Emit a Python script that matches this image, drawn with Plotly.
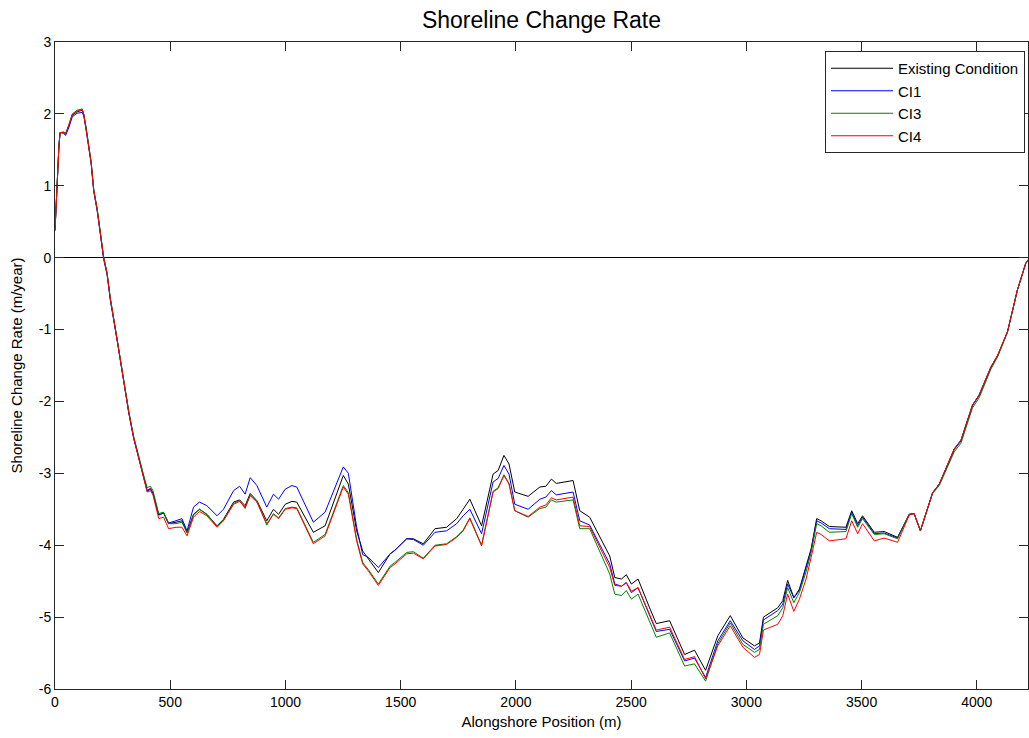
import plotly.graph_objects as go

# Alongshore position (m)
position = [0, 5, 12, 17, 22, 38, 46, 60, 75, 96, 118, 125, 136, 146, 157, 168, 183, 197, 211, 226,
            240, 270, 298, 320, 341, 370, 385, 400, 414, 425, 450, 471, 493, 525, 551, 573, 601, 627,
            659, 703, 731, 775, 801, 825, 847, 876, 919, 948, 970, 999, 1028, 1049, 1121, 1172, 1251,
            1273, 1309, 1335, 1360, 1403, 1454, 1475, 1526, 1555, 1598, 1649, 1699, 1743, 1771, 1800,
            1851, 1901, 1923, 1948, 1970, 1995, 2053, 2104, 2130, 2154, 2175, 2248, 2277, 2320, 2407,
            2429, 2458, 2479, 2501, 2530, 2580, 2609, 2667, 2732, 2775, 2823, 2876, 2930, 2985, 3035,
            3057, 3074, 3136, 3158, 3179, 3206, 3230, 3259, 3281, 3305, 3324, 3360, 3432, 3457, 3483,
            3504, 3555, 3598, 3656, 3707, 3728, 3755, 3808, 3837, 3902, 3931, 3981, 4010, 4061, 4090,
            4133, 4176, 4212, 4222]

existing = [0.38, 0.78, 1.15, 1.55, 1.74, 1.74, 1.72, 1.83, 1.98, 2.03, 2.05, 1.99, 1.78, 1.57, 1.32, 0.94,
            0.67, 0.34, 0.00, -0.22, -0.57, -1.15, -1.71, -2.15, -2.50, -2.89, -3.05, -3.24, -3.21, -3.27,
            -3.58, -3.55, -3.70, -3.68, -3.66, -3.82, -3.57, -3.50, -3.57, -3.73, -3.64, -3.40, -3.37, -3.45,
            -3.28, -3.38, -3.66, -3.50, -3.57, -3.43, -3.39, -3.40, -3.82, -3.73, -3.03, -3.15, -3.80, -4.08,
            -4.19, -4.38, -4.12, -4.07, -3.91, -3.91, -3.98, -3.77, -3.75, -3.63, -3.50, -3.36, -3.73, -3.01,
            -2.96, -2.75, -2.87, -3.26, -3.32, -3.19, -3.18, -3.08, -3.14, -3.10, -3.52, -3.61, -4.15, -4.45,
            -4.47, -4.41, -4.54, -4.47, -4.87, -5.09, -5.05, -5.52, -5.46, -5.74, -5.26, -4.98, -5.29, -5.40,
            -5.36, -5.00, -4.87, -4.77, -4.49, -4.73, -4.61, -4.31, -4.05, -3.63, -3.66, -3.74, -3.75, -3.52,
            -3.70, -3.59, -3.82, -3.81, -3.89, -3.57, -3.56, -3.80, -3.27, -3.15, -2.66, -2.54, -2.05, -1.91,
            -1.52, -1.36, -1.03, -0.45, -0.08, -0.03]

ci1 = [0.38, 0.78, 1.15, 1.55, 1.74, 1.73, 1.70, 1.81, 1.96, 2.01, 2.02, 1.97, 1.76, 1.55, 1.30, 0.92,
       0.65, 0.32, -0.02, -0.24, -0.59, -1.16, -1.72, -2.16, -2.51, -2.90, -3.06, -3.25, -3.22, -3.28,
       -3.58, -3.55, -3.69, -3.66, -3.63, -3.80, -3.47, -3.40, -3.45, -3.59, -3.50, -3.24, -3.18, -3.29,
       -3.06, -3.17, -3.47, -3.29, -3.36, -3.22, -3.17, -3.19, -3.68, -3.54, -2.91, -3.00, -3.75, -4.13,
       -4.17, -4.31, -4.12, -4.07, -3.91, -3.92, -4.00, -3.82, -3.80, -3.70, -3.59, -3.50, -3.84, -3.12,
       -3.07, -2.89, -3.01, -3.43, -3.50, -3.36, -3.33, -3.24, -3.30, -3.26, -3.66, -3.72, -4.26, -4.54,
       -4.57, -4.52, -4.66, -4.59, -4.98, -5.20, -5.17, -5.61, -5.57, -5.84, -5.33, -5.05, -5.33, -5.45,
       -5.40, -5.04, -4.91, -4.82, -4.54, -4.73, -4.63, -4.33, -4.07, -3.66, -3.69, -3.77, -3.78, -3.54,
       -3.73, -3.61, -3.84, -3.83, -3.90, -3.57, -3.56, -3.80, -3.27, -3.15, -2.67, -2.55, -2.06, -1.92,
       -1.53, -1.37, -1.03, -0.45, -0.08, -0.03]

ci3 = [0.38, 0.78, 1.15, 1.55, 1.74, 1.75, 1.73, 1.84, 2.00, 2.05, 2.07, 2.00, 1.79, 1.58, 1.33, 0.95,
       0.68, 0.35, 0.01, -0.21, -0.56, -1.14, -1.70, -2.13, -2.48, -2.87, -3.03, -3.20, -3.18, -3.24,
       -3.56, -3.54, -3.70, -3.70, -3.68, -3.83, -3.58, -3.50, -3.57, -3.74, -3.65, -3.42, -3.38, -3.49,
       -3.30, -3.39, -3.72, -3.56, -3.62, -3.49, -3.47, -3.48, -3.96, -3.85, -3.17, -3.27, -3.92, -4.24,
       -4.34, -4.54, -4.29, -4.24, -4.10, -4.09, -4.18, -4.00, -3.98, -3.88, -3.79, -3.62, -4.00, -3.25,
       -3.20, -3.02, -3.14, -3.52, -3.61, -3.49, -3.47, -3.37, -3.40, -3.37, -3.77, -3.77, -4.40, -4.68,
       -4.70, -4.63, -4.75, -4.68, -5.06, -5.28, -5.22, -5.68, -5.65, -5.89, -5.37, -5.08, -5.38, -5.49,
       -5.45, -5.10, -4.98, -4.87, -4.59, -4.80, -4.66, -4.37, -4.10, -3.70, -3.73, -3.82, -3.81, -3.56,
       -3.75, -3.63, -3.85, -3.84, -3.91, -3.57, -3.56, -3.80, -3.28, -3.17, -2.70, -2.58, -2.09, -1.95,
       -1.55, -1.38, -1.04, -0.45, -0.08, -0.03]

ci4 = [0.38, 0.78, 1.15, 1.55, 1.74, 1.74, 1.72, 1.84, 1.99, 2.04, 2.06, 1.99, 1.78, 1.57, 1.32, 0.94,
       0.67, 0.34, 0.00, -0.22, -0.57, -1.15, -1.71, -2.15, -2.50, -2.90, -3.07, -3.26, -3.24, -3.30,
       -3.63, -3.61, -3.77, -3.75, -3.75, -3.87, -3.61, -3.53, -3.59, -3.75, -3.66, -3.43, -3.39, -3.47,
       -3.31, -3.40, -3.70, -3.57, -3.63, -3.50, -3.48, -3.49, -3.98, -3.87, -3.19, -3.29, -3.94, -4.26,
       -4.36, -4.56, -4.31, -4.26, -4.12, -4.11, -4.19, -4.01, -3.99, -3.89, -3.80, -3.63, -4.01, -3.26,
       -3.21, -3.03, -3.15, -3.52, -3.60, -3.47, -3.44, -3.34, -3.37, -3.33, -3.73, -3.74, -4.31, -4.56,
       -4.57, -4.52, -4.64, -4.59, -4.96, -5.18, -5.14, -5.59, -5.55, -5.86, -5.40, -5.12, -5.42, -5.56,
       -5.52, -5.18, -5.10, -4.98, -4.68, -4.92, -4.75, -4.47, -4.17, -3.82, -3.85, -3.94, -3.91, -3.66,
       -3.84, -3.70, -3.94, -3.90, -3.96, -3.58, -3.56, -3.80, -3.27, -3.15, -2.66, -2.54, -2.05, -1.91,
       -1.52, -1.36, -1.03, -0.45, -0.08, -0.03]

series_names = ["Existing Condition", "CI1", "CI3", "CI4"]
series_colors = ["#000000", "#0000FF", "#008000", "#FF0000"]

x_ticks = [0, 500, 1000, 1500, 2000, 2500, 3000, 3500, 4000]
y_ticks = [-6, -5, -4, -3, -2, -1, 0, 1, 2, 3]
y_tick_text = ["-6", "-5", "-4", "-3", "-2", "-1", "0", "1", "2", "3"]

FONT = "Liberation Sans, Arial, Helvetica, sans-serif"
AX = "#262626"

W, H = 1029, 738
L, R, T, B = 55, 1, 42, 49
PW, PH = W - L - R, H - T - B

fig = go.Figure()
for name, ys, col in zip(series_names, [existing, ci1, ci3, ci4], series_colors):
    fig.add_trace(go.Scatter(x=position, y=ys, mode="lines", name=name,
                             legendgroup=name,
                             line=dict(color=col, width=1)))

fig.update_layout(
    width=W, height=H,
    margin=dict(l=L, r=R, t=T, b=B, autoexpand=False),
    paper_bgcolor="white", plot_bgcolor="white",
    font=dict(family=FONT, color="black", size=14),
    title=dict(text="Shoreline Change Rate", x=0.5, xref="paper", y=1 - 20 / H,
               yref="container", xanchor="center", yanchor="middle",
               font=dict(family=FONT, size=23, color="black")),
    showlegend=True,
    legend=dict(x=(1025 - L) / PW, y=(PH + T - 51) / PH, xanchor="right", yanchor="top",
                bgcolor="white", bordercolor=AX, borderwidth=1,
                font=dict(family=FONT, size=15, color="black"),
                tracegroupgap=0, itemwidth=62, traceorder="normal"),
    xaxis=dict(range=[0, 4222], tickvals=x_ticks, ticks="inside", ticklen=9, tickcolor=AX,
               showline=True, linecolor=AX, linewidth=1, mirror="ticks",
               showgrid=False, zeroline=False,
               tickfont=dict(family=FONT, size=14, color="black"),
               title=dict(text="Alongshore Position (m)", standoff=7,
                          font=dict(family=FONT, size=15, color="black"))),
    yaxis=dict(range=[-6, 3], tickvals=y_ticks, ticktext=y_tick_text, ticks="inside", ticklen=9,
               tickcolor=AX, showline=True, linecolor=AX, linewidth=1, mirror="ticks",
               showgrid=False, zeroline=True, zerolinecolor="#000000", zerolinewidth=1,
               tickfont=dict(family=FONT, size=14, color="black"),
               title=dict(text="Shoreline Change Rate (m/year)", standoff=12,
                          font=dict(family=FONT, size=15, color="black"))),
)

# Remove the default 8px page margin so the figure fills the 1029x738 window exactly.
fig.write_html("out.html",
               config={"displayModeBar": False},
               post_script="document.body.style.margin='0';document.body.style.overflow='hidden';")
